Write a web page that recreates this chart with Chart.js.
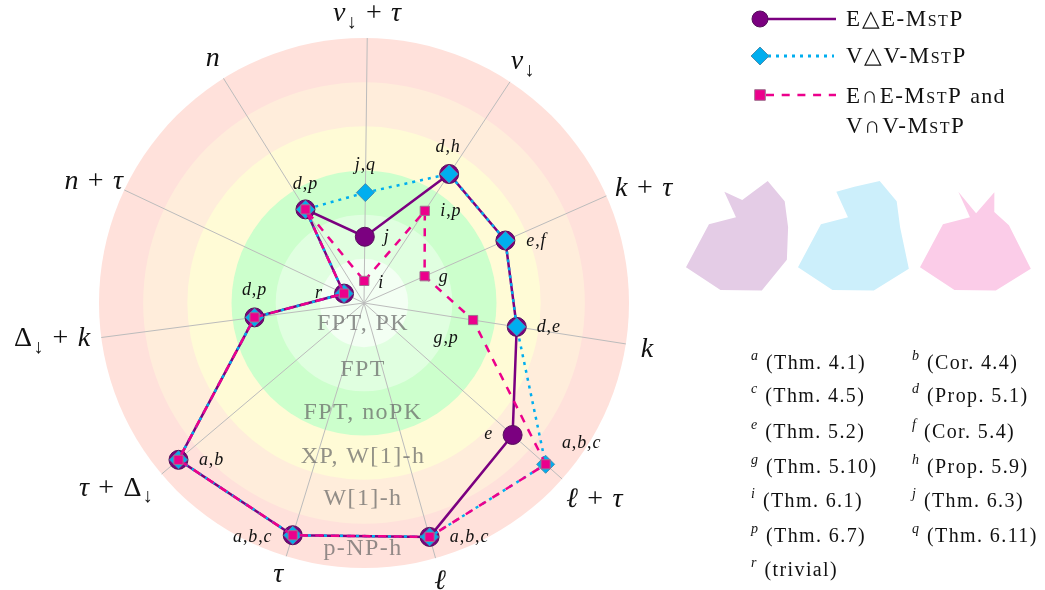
<!DOCTYPE html>
<html>
<head>
<meta charset="utf-8">
<script src="https://cdn.jsdelivr.net/npm/chart.js@4"></script>
<style>
  html, body { margin: 0; padding: 0; background: #fff; overflow: hidden; }
  canvas { position: absolute; }
</style>
</head>
<body>
<canvas id="radarMain" width="1045" height="590" style="left:0;top:0"></canvas>
<canvas id="shapeEdge" width="164" height="164" style="left:660px;top:138px"></canvas>
<canvas id="shapeVertex" width="164" height="164" style="left:772px;top:138px"></canvas>
<canvas id="shapeBoth" width="164" height="164" style="left:894px;top:138px"></canvas>
<script>
// axes, clockwise from the top
const axisLabels = ["ν↓ + τ", "ν↓", "k + τ", "k", "ℓ + τ", "ℓ", "τ", "τ + Δ↓", "Δ↓ + k", "n + τ", "n"];

// complexity level on each axis
const edgeValues   = [1.5, 3.5, 3.5, 3.5, 4.5, 5.5, 5.5, 5.5, 2.5, 0.5, 2.5];
const vertexValues = [2.5, 3.5, 3.5, 3.5, 5.5, 5.5, 5.5, 5.5, 2.5, 0.5, 2.5];
const bothValues   = [0.5, 2.5, 1.5, 2.5, 5.5, 5.5, 5.5, 5.5, 2.5, 0.5, 2.5];

// which results each point comes from
const edgeNotes   = ["j", "d,h", "e,f", "d,e", "e", "a,b,c", "a,b,c", "a,b", "d,p", "r", "d,p"];
const vertexNotes = ["j,q", "", "", "", "a,b,c", "", "", "", "", "", ""];
const bothNotes   = ["i", "i,p", "g", "g,p", "", "", "", "", "", "", ""];

// rings from the centre out
const ringNames  = ["FPT, PK", "FPT", "FPT, noPK", "XP, W[1]-h", "W[1]-h", "p-NP-h"];
const ringColors = ["#f3fff3", "#e0ffe0", "#ccffcc", "#fffbd6", "#ffeddb", "#ffe1db"];

const footKeys = ["a", "b", "c", "d", "e", "f", "g", "h", "i", "j", "p", "q", "r"];
const footRefs = ["(Thm. 4.1)", "(Cor. 4.4)", "(Thm. 4.5)", "(Prop. 5.1)", "(Thm. 5.2)", "(Cor. 5.4)",
                  "(Thm. 5.10)", "(Prop. 5.9)", "(Thm. 6.1)", "(Thm. 6.3)", "(Thm. 6.7)", "(Thm. 6.11)", "(trivial)"];

const legendLines = ["E△E-MstP", "V△V-MstP", "E∩E-MstP and", "V∩V-MstP"];

const PURPLE = "#7b0080";
const CYAN = "#00aeef";
const PINK = "#ec008c";
const SERIF = '"Liberation Serif", serif';

// draw math like "τ + Δ↓" piece by piece, centred on x
function mathText(ctx, str, x, y, size, tracking) {
    const pieces = [];
    let total = 0;
    for (const ch of str) {
        let font, w, drop = 0;
        if (ch === " ") {
            pieces.push({ ch: "", font: "", w: size * 0.3, drop: 0 });
            total += size * 0.3;
            continue;
        }
        if (ch === "↓") {
            font = (size * 0.72) + "px " + SERIF;
            drop = size * 0.24;
        } else if (ch === "+" || ch === "," || ch === "Δ") {
            font = size + "px " + SERIF;
        } else {
            font = "italic " + size + "px " + SERIF;
        }
        ctx.font = font;
        w = ctx.measureText(ch).width + tracking;
        pieces.push({ ch, font, w, drop });
        total += w;
    }
    let cx = x - total / 2;
    pieces.forEach(p => {
        if (p.ch) {
            ctx.font = p.font;
            ctx.fillText(p.ch, cx, y + size * 0.3 + p.drop);
        }
        cx += p.w;
    });
}

const ringPlugin = {
    id: "rings",
    beforeDraw(chart) {
        const { ctx } = chart;
        const scale = chart.scales.r;
        ctx.save();
        for (let i = ringColors.length - 1; i >= 0; i--) {
            ctx.beginPath();
            ctx.arc(scale.xCenter, scale.yCenter, scale.getDistanceFromCenterForValue(i + 1), 0, Math.PI * 2);
            ctx.fillStyle = ringColors[i];
            ctx.fill();
        }
        ctx.restore();
    },
    beforeDatasetsDraw(chart) {
        const { ctx } = chart;
        const scale = chart.scales.r;
        ctx.save();
        ctx.font = "24px " + SERIF;
        ctx.letterSpacing = "1.4px";
        ctx.fillStyle = "rgba(100,100,100,0.7)";
        ctx.textAlign = "center";
        ctx.textBaseline = "middle";
        const nudge = [-1, 0, -1, -1, -3, 3];
        ringNames.forEach((name, i) => {
            const y = scale.yCenter + scale.getDistanceFromCenterForValue(i + 0.5) + nudge[i];
            ctx.fillText(name, scale.xCenter - 1, y);
        });
        ctx.restore();
    }
};

// offsets of the small notes from their points
const edgeOffsets = [[22, 0], [-1, -27], [31, 0], [32, 0], [-24, -1], [40, 0], [-40, 1], [33, 0], [0, -28], [-25, -1], [0, -26]];
const vertexOffsets = { 0: [0, -28], 4: [36, -22] };
const bothOffsets = [[17, 2], [26, 0], [19, 0], [-27, 18]];
// distance of the axis names from the centre, then a small shift
const labelDist = [290, 287, 303, 287, 302, 287, 284, 310, 314, 296, 288];
const labelShift = [[0, 0], [1, -3], [3, 7], [0, 1], [5, -5], [-1, 1], [-2, -1], [-11, -16], [0, -6], [-2, 4], [2, -1]];

const textPlugin = {
    id: "texts",
    afterDraw(chart) {
        const { ctx } = chart;
        const scale = chart.scales.r;
        ctx.save();
        ctx.fillStyle = "#111";
        ctx.textAlign = "left";
        ctx.textBaseline = "alphabetic";

        axisLabels.forEach((name, i) => {
            const p = scale.getPointPosition(i, labelDist[i]);
            mathText(ctx, name, p.x + labelShift[i][0], p.y + labelShift[i][1], 28, 1);
        });

        const note = (text, axis, value, off) => {
            if (!text) return;
            const p = scale.getPointPositionForValue(axis, value);
            mathText(ctx, text, p.x + off[0], p.y + off[1], 18, 0.9);
        };
        edgeNotes.forEach((t, i) => note(t, i, edgeValues[i], edgeOffsets[i]));
        vertexNotes.forEach((t, i) => note(t, i, vertexValues[i], vertexOffsets[i]));
        bothNotes.forEach((t, i) => note(t, i, bothValues[i], bothOffsets[i]));

        // footnotes, two columns
        const rowY = [369, 402, 438, 473, 507, 542, 576];
        footKeys.forEach((key, i) => {
            const col = i % 2 === 0 ? 751 : 912;
            const y = rowY[Math.floor(i / 2)];
            ctx.font = "italic 14px " + SERIF;
            ctx.letterSpacing = "0px";
            ctx.fillText(key, col, y - 9);
            const w = ctx.measureText(key).width;
            ctx.font = "20px " + SERIF;
            ctx.letterSpacing = "1.4px";
            ctx.fillText(footRefs[i], col + w + 8, y);
        });

        // legend
        const legendY = [19, 56, 95];
        const legendBase = [26, 63, 103, 133];
        legendLines.forEach((t, i) => {
            const head = t.replace(" and", "");
            ctx.font = "small-caps 23px " + SERIF;
            ctx.letterSpacing = "1.5px";
            ctx.fillText(head, 846, legendBase[i]);
            if (head !== t) {
                const w = ctx.measureText(head).width;
                ctx.font = "22px " + SERIF;
                ctx.letterSpacing = "1.2px";
                ctx.fillText("and", 846 + w + 8, legendBase[i]);
            }
        });
        ctx.letterSpacing = "0px";

        ctx.lineWidth = 2.5;
        ctx.strokeStyle = PURPLE;
        ctx.beginPath(); ctx.moveTo(760, legendY[0]); ctx.lineTo(836, legendY[0]); ctx.stroke();
        ctx.lineWidth = 3;
        ctx.strokeStyle = CYAN;
        ctx.setLineDash([3, 5]);
        ctx.beginPath(); ctx.moveTo(768, legendY[1]); ctx.lineTo(834, legendY[1]); ctx.stroke();
        ctx.lineWidth = 2.5;
        ctx.strokeStyle = PINK;
        ctx.setLineDash([8, 7.7]);
        ctx.beginPath(); ctx.moveTo(766, legendY[2]); ctx.lineTo(836, legendY[2]); ctx.stroke();
        ctx.setLineDash([]);

        ctx.lineWidth = 1;
        ctx.fillStyle = PURPLE;
        ctx.strokeStyle = "#55105a";
        Chart.helpers.drawPoint(ctx, { pointStyle: "circle", radius: 8, rotation: 0, borderWidth: 1 }, 760, legendY[0]);
        ctx.fillStyle = CYAN;
        ctx.strokeStyle = "#4a8fb0";
        Chart.helpers.drawPoint(ctx, { pointStyle: "rectRot", radius: 9, rotation: 0, borderWidth: 1 }, 760, legendY[1]);
        ctx.fillStyle = PINK;
        ctx.strokeStyle = "#a0708f";
        Chart.helpers.drawPoint(ctx, { pointStyle: "rect", radius: 7.5, rotation: 0, borderWidth: 1 }, 760, legendY[2]);
        ctx.restore();
    }
};

function seriesLine(values, color, dash, pointStyle, pointRadius, pointEdge, order) {
    return {
        data: values,
        borderColor: color,
        borderWidth: 2.5,
        borderDash: dash,
        fill: false,
        tension: 0,
        pointStyle: pointStyle,
        pointRadius: pointRadius,
        pointBackgroundColor: color,
        pointBorderColor: pointEdge,
        pointBorderWidth: 1,
        order: order
    };
}

function radarScale() {
    return {
        min: 0,
        max: 6,
        startAngle: 0.7,
        ticks: { display: false, stepSize: 1 },
        grid: { display: false },
        pointLabels: { display: false }
    };
}

new Chart(document.getElementById("radarMain").getContext("2d"), {
    type: "radar",
    data: {
        labels: axisLabels,
        datasets: [
            seriesLine(edgeValues, PURPLE, [], "circle", 9.5, "#55105a", 3),
            seriesLine(vertexValues, CYAN, [3, 5], "rectRot", 9, "#4a8fb0", 2),
            seriesLine(bothValues, PINK, [8, 7.7], "rect", 6.5, "#a0708f", 1)
        ]
    },
    options: {
        responsive: false,
        animation: false,
        layout: { padding: { left: 99, right: 416, top: 38, bottom: 22 } },
        plugins: { legend: { display: false }, tooltip: { enabled: false } },
        scales: {
            r: Object.assign(radarScale(), {
                angleLines: { color: "#bcbcbc", lineWidth: 1 }
            })
        }
    },
    plugins: [ringPlugin, textPlugin]
});

// the three pale shapes, same data without the grid
function smallShape(id, values, color) {
    new Chart(document.getElementById(id).getContext("2d"), {
        type: "radar",
        data: {
            labels: axisLabels,
            datasets: [{ data: values, fill: "start", backgroundColor: color, borderWidth: 0, pointRadius: 0, tension: 0 }]
        },
        options: {
            responsive: false,
            animation: false,
            layout: { padding: 2 },
            plugins: { legend: { display: false }, tooltip: { enabled: false } },
            scales: {
                r: Object.assign(radarScale(), { display: true, angleLines: { display: false } })
            }
        }
    });
}
smallShape("shapeEdge", edgeValues, "#e4cce6");
smallShape("shapeVertex", vertexValues, "#cceffb");
smallShape("shapeBoth", bothValues, "#fbcce8");
</script>
</body>
</html>
